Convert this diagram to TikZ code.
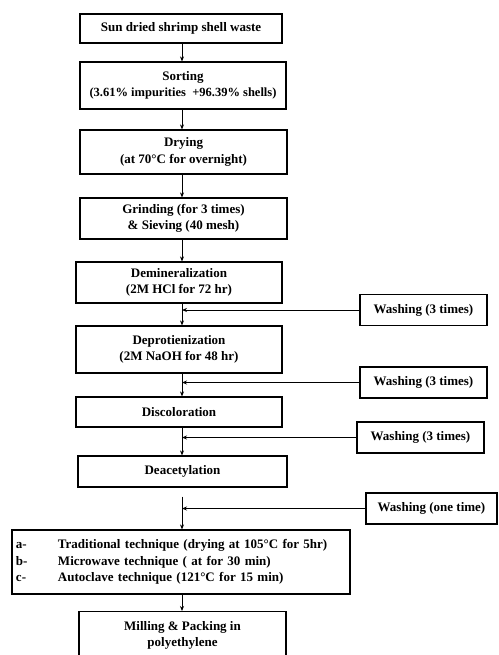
\documentclass[tikz,border=0pt]{standalone}
\usepackage{fontspec}
\setmainfont{Liberation Serif}
\usetikzlibrary{arrows.meta,calc,positioning}
\newcommand{\subtxt}{\fontsize{12.5}{16}\selectfont}
\tikzset{every node/.style={font=\bfseries\fontsize{13}{16.5}\selectfont}}
\tikzset{
  stepbox/.style={draw,line width=1.2pt,align=center,inner sep=0pt},
  washbox/.style={draw,line width=1.2pt,inner sep=0pt,minimum height=31pt},
  flow/.style={line width=0.9pt,-{Stealth[length=5pt,width=4pt]}}
}

\begin{document}
\begin{tikzpicture}[x=1pt,y=-1pt]
  \useasboundingbox (0,0) rectangle (498,655);
  \clip (0,0) rectangle (498,655);
  % --- main process column ---
  \node[stepbox,minimum width=202pt,minimum height=29pt] (waste) at (181,28.5) {Sun dried shrimp shell waste};
  \node[stepbox,minimum width=206pt,minimum height=47pt] (sort) at (183,85.5)
    {Sorting\\{\subtxt(3.61\% impurities\ \ +96.39\% shells)}};
  \node[stepbox,minimum width=207pt,minimum height=44pt] (dry) at (183.5,152) {Drying\\(at 70°C for overnight)};
  \node[stepbox,minimum width=207pt,minimum height=41pt] (grind) at (183.5,218.5) {Grinding (for 3 times)\\\& Sieving (40 mesh)};
  \node[stepbox,minimum width=206pt,minimum height=41pt] (demin) at (179,282.5) {Demineralization\\(2M HCl for 72 hr)};
  \node[stepbox,minimum width=206pt,minimum height=47pt] (deprot) at (179,349.5) {Deprotienization\\(2M NaOH for 48 hr)};
  \node[stepbox,minimum width=206pt,minimum height=30pt] (discol) at (179,412) {Discoloration};
  \node[stepbox,minimum width=209pt,minimum height=31pt] (deacet) at (182.5,471.5) {Deacetylation};
  \node[stepbox,minimum width=338pt,minimum height=64pt,text width=330pt,align=left] (tech) at (181,562)
    {\makebox[42pt][l]{a-}Traditional technique (drying at 105°C for 5hr)\\
     \makebox[42pt][l]{b-}Microwave technique ( at for 30 min)\\
     \makebox[42pt][l]{c-}Autoclave technique (121°C for 15 min)};
  \node[stepbox,minimum width=207pt,minimum height=48pt,anchor=north] (mill) at (182.5,611) {Milling \& Packing in\\polyethylene};
  % --- washing steps (right side) ---
  \node[washbox,minimum width=127pt] (wash1) at (423.5,310) {Washing (3 times)};
  \node[washbox,minimum width=127pt] (wash2) at (423.5,382.5) {Washing (3 times)};
  \node[washbox,minimum width=127pt] (wash3) at (420.5,437.5) {Washing (3 times)};
  \node[washbox,minimum width=131pt] (wash4) at (431.5,508.5) {Washing (one time)};
  % --- spine and junctions ---
  \coordinate (spine) at (182,0);
  \coordinate (j1) at (spine |- wash1.west);
  \coordinate (j2) at (spine |- wash2.west);
  \coordinate (j3) at (spine |- wash3.west);
  \coordinate (j4) at (spine |- wash4.west);
  % --- arrows down the column ---
  \draw[flow] (waste.south -| spine) -- (sort.north -| spine);
  \draw[flow] (sort.south -| spine) -- (dry.north -| spine);
  \draw[flow] (dry.south -| spine) -- (grind.north -| spine);
  \draw[flow] (grind.south -| spine) -- (demin.north -| spine);
  \draw[flow] (demin.south -| spine) -- (deprot.north -| spine);
  \draw[flow] (deprot.south -| spine) -- (discol.north -| spine);
  \draw[flow] (discol.south -| spine) -- (deacet.north -| spine);
  \draw[flow] ($(deacet.south -| spine)+(0,9)$) -- (tech.north -| spine);
  \draw[flow] (tech.south -| spine) -- (mill.north -| spine);
  % --- washing feeds ---
  \draw[flow] (wash1.west) -- (j1);
  \draw[flow] (wash2.west) -- (j2);
  \draw[flow] (wash3.west) -- (j3);
  \draw[flow] (wash4.west) -- (j4);
\end{tikzpicture}
\end{document}
